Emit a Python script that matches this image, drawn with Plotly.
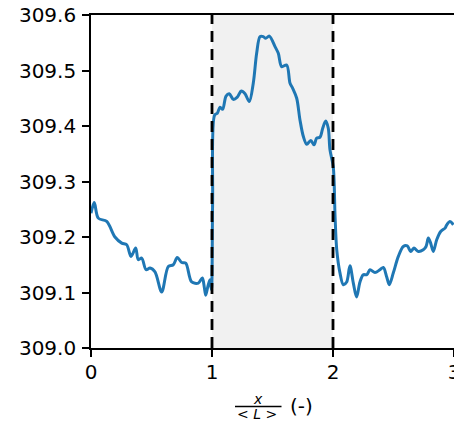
import plotly.graph_objects as go

x_pos = [0.000, 0.027, 0.060, 0.130, 0.198, 0.254, 0.295, 0.331, 0.369, 0.391,
         0.419, 0.455, 0.488, 0.529, 0.584, 0.639, 0.680, 0.713, 0.750, 0.783,
         0.832, 0.887, 0.920, 0.936, 0.948, 0.965, 0.983, 0.995, 1.005, 1.022,
         1.044, 1.066, 1.088, 1.116, 1.143, 1.176, 1.209, 1.242, 1.273, 1.308,
         1.341, 1.369, 1.397, 1.424, 1.444, 1.474, 1.521, 1.548, 1.576, 1.617,
         1.645, 1.667, 1.700, 1.727, 1.755, 1.783, 1.816, 1.843, 1.865, 1.893,
         1.915, 1.940, 1.961, 1.975, 2.002, 2.017, 2.031, 2.058, 2.085, 2.113,
         2.140, 2.168, 2.195, 2.223, 2.250, 2.279, 2.306, 2.347, 2.388, 2.416,
         2.444, 2.465, 2.498, 2.540, 2.581, 2.614, 2.642, 2.669, 2.705, 2.746,
         2.769, 2.788, 2.807, 2.829, 2.857, 2.890, 2.926, 2.940, 2.967, 2.995]
temperature = [309.243, 309.262, 309.234, 309.228, 309.200, 309.189, 309.186, 309.165, 309.180, 309.159,
               309.162, 309.141, 309.144, 309.137, 309.101, 309.147, 309.150, 309.163, 309.154, 309.153,
               309.119, 309.117, 309.126, 309.110, 309.095, 309.110, 309.123, 309.105, 309.260, 309.420,
               309.423, 309.434, 309.430, 309.454, 309.458, 309.448, 309.452, 309.463, 309.458, 309.444,
               309.477, 309.531, 309.561, 309.561, 309.558, 309.562, 309.543, 309.531, 309.507, 309.510,
               309.477, 309.468, 309.450, 309.411, 309.381, 309.367, 309.374, 309.366, 309.378, 309.380,
               309.396, 309.409, 309.396, 309.357, 309.327, 309.237, 309.177, 309.135, 309.114, 309.119,
               309.148, 309.117, 309.092, 309.119, 309.132, 309.132, 309.141, 309.136, 309.141, 309.145,
               309.128, 309.114, 309.135, 309.165, 309.183, 309.184, 309.174, 309.180, 309.174, 309.177,
               309.183, 309.198, 309.189, 309.174, 309.195, 309.210, 309.216, 309.222, 309.228, 309.222]

region_bounds = [1, 2]
x_ticks = [0, 1, 2, 3]
y_ticks = [309.0, 309.1, 309.2, 309.3, 309.4, 309.5, 309.6]

FONT = "DejaVu Sans"

fig = go.Figure()
fig.add_trace(go.Scatter(x=x_pos, y=temperature, mode="lines",
                         line=dict(color="#1f77b4", width=3, shape="spline", smoothing=0.9),
                         showlegend=False, hoverinfo="skip"))

# shaded region
fig.add_shape(type="rect", xref="x", yref="paper", x0=region_bounds[0], x1=region_bounds[1],
              y0=0, y1=1, fillcolor="rgb(241,241,241)", line=dict(width=0), layer="below")
for xb in region_bounds:
    fig.add_shape(type="line", xref="x", yref="paper", x0=xb, x1=xb, y0=0, y1=1,
                  line=dict(color="black", width=2.8, dash="11px,7px"), layer="above")

# x-axis label: fraction x / <L> (-)
W, H = 454, 422
L, R, T, B = 91, 0, 15, 74
pw, ph = W - L - R, H - T - B
def px(xp):
    return (xp - L) / pw
def py(yp):
    return (H - B - yp) / ph

fig.add_shape(type="line", xref="paper", yref="paper", x0=px(235), x1=px(281.5),
              y0=py(406.5), y1=py(406.5), line=dict(color="black", width=1.3))
fig.add_annotation(xref="paper", yref="paper", x=px(258), y=py(399), text="<i>x</i>",
                   showarrow=False, font=dict(family=FONT, size=14, color="black"),
                   xanchor="center", yanchor="middle")
fig.add_annotation(xref="paper", yref="paper", x=px(257), y=py(414), text="&lt; <i>L</i> &gt;",
                   showarrow=False, font=dict(family=FONT, size=14, color="black"),
                   xanchor="center", yanchor="middle")
fig.add_annotation(xref="paper", yref="paper", x=px(288), y=py(406), text="(-)",
                   showarrow=False, font=dict(family=FONT, size=20, color="black"),
                   xanchor="left", yanchor="middle")

fig.update_layout(
    width=W, height=H, autosize=False,
    margin=dict(l=L, r=R, t=T, b=B, pad=0),
    paper_bgcolor="white", plot_bgcolor="white",
    font=dict(family=FONT, size=20, color="black"),
    xaxis=dict(range=[0, 3], tickvals=x_ticks, ticktext=[str(v) for v in x_ticks],
               automargin=False, ticklabeloverflow="allow", ticklabelstandoff=-2,
               showgrid=False, zeroline=False, showline=True, linecolor="black", linewidth=1.6,
               mirror=True, ticks="outside", ticklen=7, tickwidth=1.6, tickcolor="black",
               tickfont=dict(family=FONT, size=20, color="black")),
    yaxis=dict(range=[309.0, 309.6], tickvals=y_ticks, tickformat=".1f",
               automargin=False, ticklabelstandoff=2,
               showgrid=False, zeroline=False, showline=True, linecolor="black", linewidth=1.6,
               mirror=True, ticks="outside", ticklen=7, tickwidth=1.6, tickcolor="black",
               tickfont=dict(family=FONT, size=20, color="black")),
)

post = ("document.documentElement.style.margin='0';document.body.style.margin='0';"
        "document.body.style.padding='0';document.documentElement.style.overflow='hidden';"
        "document.body.style.overflow='hidden';"
        "var gd=document.getElementById('{plot_id}');"
        "Plotly.relayout(gd,{width:%d,height:%d});" % (W, H))

fig.write_html("out.html", post_script=post, config={"displayModeBar": False})
